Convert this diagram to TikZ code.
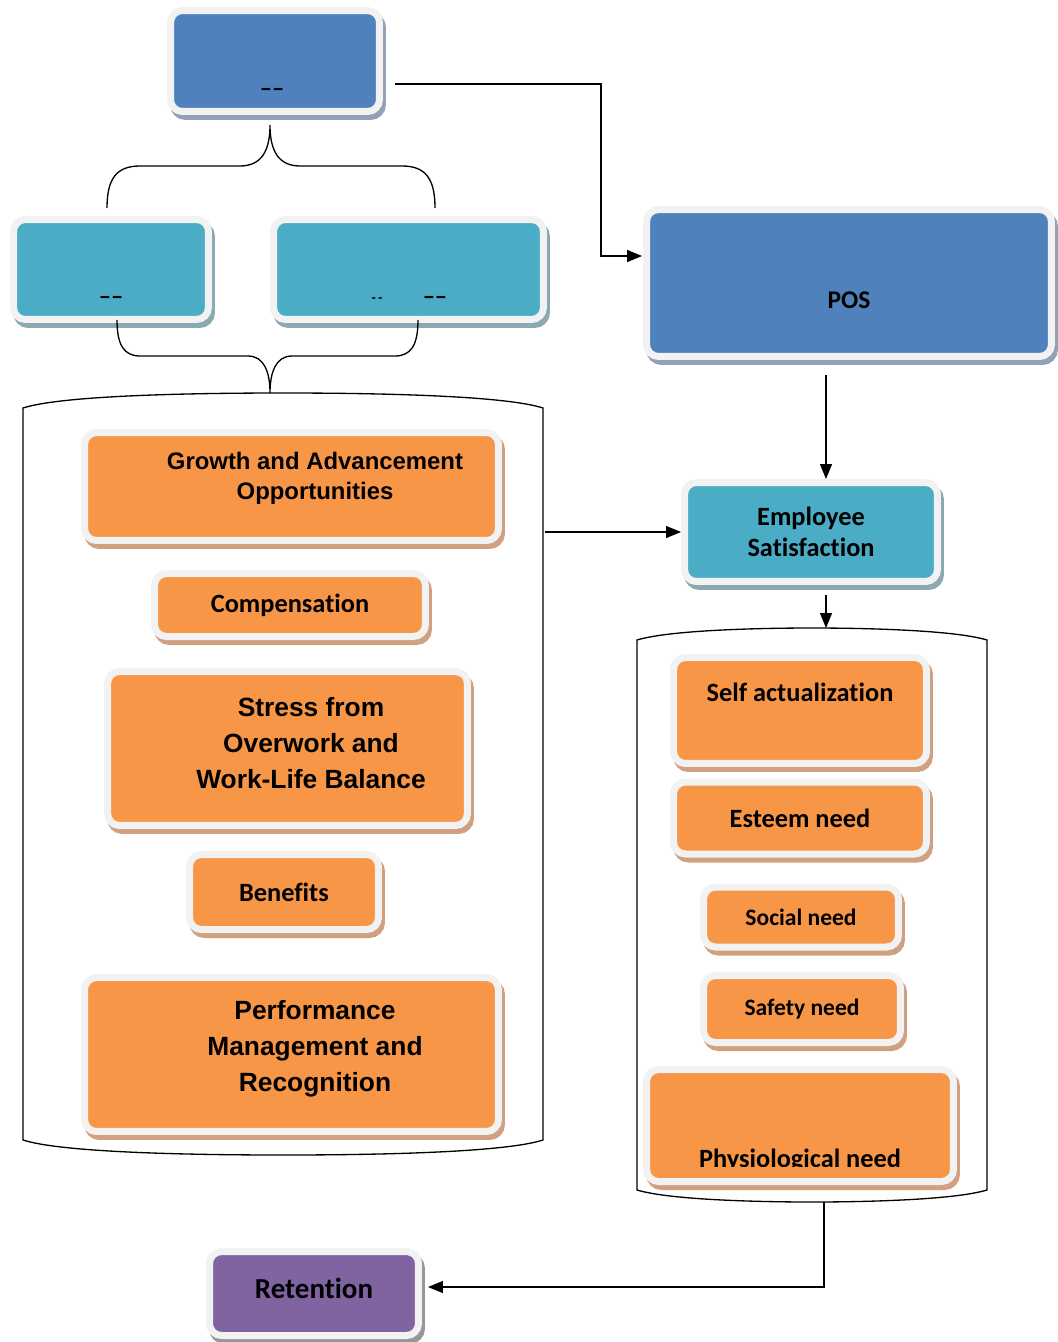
\documentclass[tikz,border=0pt]{standalone}
\usepackage{fontspec}
\setmainfont[Ligatures={NoCommon}]{Carlito}
\newfontfamily\arialfont{Liberation Sans}
\usetikzlibrary{arrows.meta, shadows}
\definecolor{posblue}{RGB}{79,129,189}
\definecolor{affcyan}{RGB}{75,172,198}
\definecolor{needorange}{RGB}{247,150,70}
\definecolor{retpurple}{RGB}{128,100,162}
\definecolor{framegray}{RGB}{242,242,242}
\definecolor{shadeblue}{RGB}{146,161,184}
\definecolor{shadecyan}{RGB}{138,169,178}
\definecolor{shadeorange}{RGB}{208,160,128}
\definecolor{shadepurple}{RGB}{150,150,160}

\begin{document}
\begin{tikzpicture}[
    x=0.02cm, y=-0.02cm,
    box/.style={rectangle, rounded corners=0.24cm, draw=framegray, line width=0.14cm,
                inner sep=0pt, align=center, font=\bfseries\fontsize{15}{18}\selectfont},
    boxshade/.style={drop shadow={shadow xshift=0.06cm, shadow yshift=-0.1cm,
                opacity=1, fill=#1, draw=#1, line width=0.14cm}},
    bluebox/.style={box, fill=posblue, boxshade=shadeblue},
    cyanbox/.style={box, fill=affcyan, boxshade=shadecyan},
    orangebox/.style={box, fill=needorange, boxshade=shadeorange},
    purplebox/.style={box, fill=retpurple, boxshade=shadepurple},
    arialtxt/.style={font=\arialfont\bfseries\fontsize{13.6}{17}\selectfont},
    bigarial/.style={font=\arialfont\bfseries\fontsize{15}{20.5}\selectfont},
    stub/.style={font=\bfseries\fontsize{14}{14}\selectfont},
    holder/.style={line width=0.75pt},
    brace/.style={line width=0.75pt},
    arrow/.style={-{Triangle[length=0.3cm, width=0.24cm]}, line width=0.7pt}
]
\useasboundingbox (0,0) rectangle (1058,1342);

% --- Left holder ---
\draw[holder] (23,408) .. controls (60,396) and (180,393) .. (283,393)
    .. controls (386,393) and (506,396) .. (543,408) -- (543,1140)
    .. controls (506,1152) and (386,1155) .. (283,1155)
    .. controls (180,1155) and (60,1152) .. (23,1140) -- cycle;
\coordinate (holdL-e) at (545,532);

% --- Right holder ---
\draw[holder] (637,640) .. controls (670,630) and (760,628) .. (812,628)
    .. controls (864,628) and (954,630) .. (987,640) -- (987,1190)
    .. controls (954,1200) and (864,1202) .. (812,1202)
    .. controls (760,1202) and (670,1200) .. (637,1190) -- cycle;
\coordinate (holdR-n) at (826,628);
\coordinate (holdR-s) at (824,1202);

% --- Top ---
\node[bluebox, minimum width=4.18cm, minimum height=2.02cm,
      label={[stub, xshift=-0.06cm, yshift=-0.62cm]center:––}] (source) at (275,61) {};

% --- Second row ---
\node[cyanbox, minimum width=3.9cm, minimum height=2cm,
      label={[stub, yshift=-0.61cm]center:––}] (subA) at (111,269.5) {};
\node[cyanbox, minimum width=5.4cm, minimum height=2cm,
      label={[stub, font=\bfseries\fontsize{8}{8}\selectfont, xshift=-0.63cm, yshift=-0.61cm]center:-\,-},
      label={[stub, xshift=0.53cm, yshift=-0.61cm]center:––}] (subB) at (408.5,269.5) {};

% --- POS ---
\node[bluebox, minimum width=8.1cm, minimum height=2.94cm,
      label={[font=\bfseries\fontsize{14.5}{18}\selectfont, yshift=-0.34cm]center:POS}] (pos) at (849,283) {};

% --- Factors ---
\node[orangebox, minimum width=8.28cm, minimum height=2.16cm,
      label={[arialtxt, align=center, xshift=0.47cm, yshift=0.17cm]center:Growth and Advancement\\Opportunities}] (growth) at (291.5,486.5) {};
\node[orangebox, minimum width=5.42cm, minimum height=1.26cm] (comp) at (290,605) {Compensation};
\node[orangebox, minimum width=7.2cm, minimum height=3.08cm,
      label={[bigarial, align=center, xshift=0.47cm, yshift=0.11cm]center:Stress from\\Overwork and\\Work-Life Balance}] (stress) at (287.5,748.5) {};
\node[orangebox, minimum width=3.78cm, minimum height=1.5cm] (benefit) at (284,892) {Benefits};
\node[orangebox, minimum width=8.28cm, minimum height=3.08cm,
      label={[bigarial, align=center, xshift=0.47cm, yshift=0.11cm]center:Performance\\Management and\\Recognition}] (perf) at (291.5,1054.5) {};

% --- Employee Satisfaction ---
\node[cyanbox, minimum width=5.06cm, minimum height=1.98cm] (empsat) at (811,532) {Employee\\Satisfaction};

% --- Needs ---
\node[orangebox, minimum width=5.06cm, minimum height=2.12cm,
      label={[font=\bfseries\fontsize{15}{18}\selectfont, yshift=0.37cm]center:Self actualization}] (selfact) at (800,710.5) {};
\node[orangebox, minimum width=5.06cm, minimum height=1.44cm] (esteem) at (800,818) {Esteem need};
\node[orangebox, minimum width=3.9cm, minimum height=1.2cm,
      font=\bfseries\fontsize{13.4}{16}\selectfont] (social) at (801,917) {Social need};
\node[orangebox, minimum width=3.94cm, minimum height=1.34cm,
      font=\bfseries\fontsize{13.4}{16}\selectfont] (safety) at (802,1009) {Safety need};
\node[orangebox, minimum width=6.14cm, minimum height=2.24cm] (physio) at (800,1125.5) {};
\begin{scope}
  \clip (650,1073) rectangle (950,1166);
  \node[anchor=base, font=\bfseries\fontsize{15}{18}\selectfont] (physio-txt) at (800,1167) {Physiological need};
\end{scope}

% --- Retention ---
\node[purplebox, minimum width=4.18cm, minimum height=1.68cm,
      label={[font=\bfseries\fontsize{16.5}{20}\selectfont, yshift=0.11cm]center:Retention}] (ret) at (314,1293.5) {};

% braces
\draw[brace] (107,208) .. controls (107,178) and (117,166) .. (140,166) -- (240,166)
    .. controls (262,166) and (270,150) .. (270,125)
    .. controls (270,150) and (278,166) .. (300,166) -- (402,166)
    .. controls (425,166) and (435,178) .. (435,208);
\draw[brace] (117,320) .. controls (117,345) and (124,356) .. (140,356) -- (248,356)
    .. controls (264,356) and (270,372) .. (270,393)
    .. controls (270,372) and (276,356) .. (292,356) -- (395,356)
    .. controls (411,356) and (418,345) .. (418,320);

% arrows
\draw[arrow] ([xshift=0.24cm, yshift=-0.46cm]source.east) -- ++(4.12cm,0)
    |- ([xshift=-0.02cm, yshift=0.54cm]pos.west);
\coordinate (posout) at ([xshift=-0.46cm, yshift=-0.31cm]pos.south);
\draw[arrow] (posout) -- (posout |- empsat.north);
\draw[arrow] (holdL-e) -- (empsat.west);
\draw[arrow, shorten <=0.2cm] (empsat.south -| holdR-n) -- (holdR-n);
\draw[arrow, shorten >=0.12cm] (holdR-s) |- ([yshift=0.13cm]ret.east);

\end{tikzpicture}
\end{document}
